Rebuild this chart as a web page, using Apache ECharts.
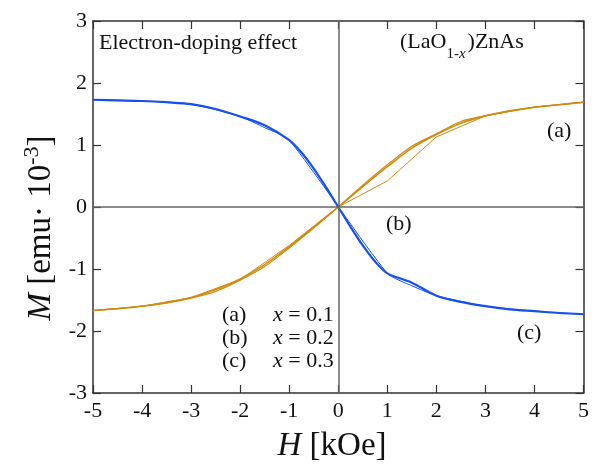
<!DOCTYPE html>
<html><head><meta charset="utf-8">
<script src="https://cdn.jsdelivr.net/npm/echarts@6/dist/echarts.min.js"></script>
<style>html,body{margin:0;padding:0;background:#fff}#c{width:592px;height:464px}</style>
</head><body><div id="c"></div>
<script>
// ---- data ----
var xTicks = [-5,-4,-3,-2,-1,0,1,2,3,4,5];
var yTicks = [-3,-2,-1,0,1,2,3];
var hA  = [-5,-4.5,-4,-3.5,-3,-2.5,-2,-1.5,-1,-0.5,0,0.5,1,1.5,2,2.5,3,3.5,4,4.5,5];
var mA  = [-1.67,-1.64,-1.60,-1.54,-1.46,-1.33,-1.16,-0.93,-0.64,-0.32,0,0.33,0.65,0.95,1.17,1.35,1.47,1.55,1.61,1.65,1.69];
var hA2 = [-5,-4,-3,-2,-1,0,1,2,3,4,5];
var mA2 = [-1.67,-1.60,-1.46,-1.17,-0.62,0,0.42,1.13,1.47,1.61,1.69];
var hB  = [-5,-4.5,-4,-3.5,-3,-2.5,-2,-1.5,-1,-0.5,0,0.5,1,1.5,2,2.5,3,3.5,4,4.5,5];
var mB  = [-1.67,-1.64,-1.60,-1.55,-1.47,-1.36,-1.18,-0.96,-0.66,-0.34,0,0.35,0.68,0.98,1.18,1.38,1.47,1.55,1.61,1.65,1.69];
var hC  = [-5,-4.5,-4,-3.5,-3,-2.5,-2,-1.5,-1,-0.75,-0.5,-0.25,0,0.25,0.5,0.75,1,1.5,2,2.5,3,3.5,4,4.5,5];
var mC  = [1.73,1.72,1.71,1.69,1.66,1.58,1.46,1.32,1.08,0.88,0.62,0.32,0,-0.32,-0.62,-0.88,-1.07,-1.22,-1.43,-1.53,-1.60,-1.65,-1.68,-1.71,-1.73];
var hC2 = [-5,-4,-3,-2,-1.5,-1,1,1.5,2,3,4,5];
var mC2 = [1.73,1.71,1.66,1.46,1.28,1.08,-1.07,-1.27,-1.43,-1.60,-1.68,-1.73];

function pairs(h, m){ return h.map(function(v,i){ return [v, m[i]]; }); }

var FONT = '"Liberation Serif","Times New Roman",serif';
var ORANGE = '#d18b0f';
var BLUE = '#1550f2';
var FRAME = '#333';

var chart = echarts.init(document.getElementById('c'), null, {renderer:'canvas'});

function lineSeries(name, data, color, width, smooth){
  return {name:name, type:'line', data:data, symbol:'none', smooth:smooth || false,
    lineStyle:{color:color, width:width}, itemStyle:{color:color}, z:3};
}

function axisCommon(){
  return {
    type:'value', axisLine:{show:true, onZero:false, lineStyle:{color:FRAME, width:1.5}},
    axisTick:{show:true, inside:true, length:8, lineStyle:{color:FRAME, width:1.2}},
    splitLine:{show:false}
  };
}

var italic = function(size){ return {fontFamily:FONT, fontSize:size, fontStyle:'italic', fill:'#111'}; };

chart.setOption({
  animation:false,
  grid:{left:93, right:5, top:21, bottom:71},
  xAxis:[
    Object.assign(axisCommon(), {min:xTicks[0], max:xTicks[xTicks.length-1], interval:1, position:'bottom',
      axisLabel:{fontFamily:FONT, fontSize:22, color:'#111', margin:7}}),
    Object.assign(axisCommon(), {min:xTicks[0], max:xTicks[xTicks.length-1], interval:1, position:'top', axisLabel:{show:false}})
  ],
  yAxis:[
    Object.assign(axisCommon(), {min:yTicks[0], max:yTicks[yTicks.length-1], interval:1, position:'left',
      axisLabel:{fontFamily:FONT, fontSize:22, color:'#111', margin:6}}),
    Object.assign(axisCommon(), {min:yTicks[0], max:yTicks[yTicks.length-1], interval:1, position:'right', axisLabel:{show:false}})
  ],
  series:[
    {type:'line', data:[], markLine:{silent:true, symbol:'none', label:{show:false},
      lineStyle:{color:'#666', width:1.5, type:'solid'},
      data:[{xAxis:0},{yAxis:0}]}, z:1},
    lineSeries('a', pairs(hA,mA), ORANGE, 1.6, 0.3),
    lineSeries('a2', pairs(hA2,mA2), ORANGE, 1),
    lineSeries('b', pairs(hB,mB), ORANGE, 1.2, 0.3),
    lineSeries('c', pairs(hC,mC), BLUE, 2.2, 0.3),
    lineSeries('c2', pairs(hC2,mC2), BLUE, 1, 0.2)
  ],
  graphic:[
    {type:'text', x:332, y:446, style:{text:'{i|H} [kOe]', font:'33px '+FONT, fill:'#111', align:'center', verticalAlign:'middle',
      rich:{i:italic(33)}}},
    {type:'text', x:41, y:228, rotation:Math.PI/2, style:{text:'{i|M} [emu\u00b7 10{s|-3}]', font:'33px '+FONT, fill:'#111', align:'center', verticalAlign:'middle',
      lineHeight:40, rich:{i:Object.assign(italic(33),{lineHeight:40}), s:{fontFamily:FONT, fontSize:22, fill:'#111', verticalAlign:'top', lineHeight:22}}}},
    {type:'text', left:99, top:32, style:{text:'Electron-doping effect', font:'22px '+FONT, fill:'#111'}},
    {type:'text', left:400, top:31, style:{text:'(LaO{s|1-}{si|x})ZnAs', font:'22px '+FONT, fill:'#111',
      rich:{s:{fontFamily:FONT, fontSize:15, verticalAlign:'bottom', lineHeight:14, padding:[0,0,-9,0]},
            si:{fontFamily:FONT, fontSize:15, fontStyle:'italic', verticalAlign:'bottom', lineHeight:14, padding:[0,2,-9,0]}}}},
    {type:'text', left:547, top:120, style:{text:'(a)', font:'22px '+FONT, fill:'#111'}},
    {type:'text', left:386, top:213, style:{text:'(b)', font:'22px '+FONT, fill:'#111'}},
    {type:'text', left:517, top:322, style:{text:'(c)', font:'22px '+FONT, fill:'#111'}},
    {type:'text', left:222, top:304, style:{text:'(a)', font:'22px '+FONT, fill:'#111'}},
    {type:'text', left:222, top:327, style:{text:'(b)', font:'22px '+FONT, fill:'#111'}},
    {type:'text', left:222, top:350, style:{text:'(c)', font:'22px '+FONT, fill:'#111'}},
    {type:'text', left:273, top:304, style:{text:'{i|x} = 0.1', font:'22px '+FONT, fill:'#111', rich:{i:italic(22)}}},
    {type:'text', left:273, top:327, style:{text:'{i|x} = 0.2', font:'22px '+FONT, fill:'#111', rich:{i:italic(22)}}},
    {type:'text', left:273, top:350, style:{text:'{i|x} = 0.3', font:'22px '+FONT, fill:'#111', rich:{i:italic(22)}}}
  ]
});
</script></body></html>
